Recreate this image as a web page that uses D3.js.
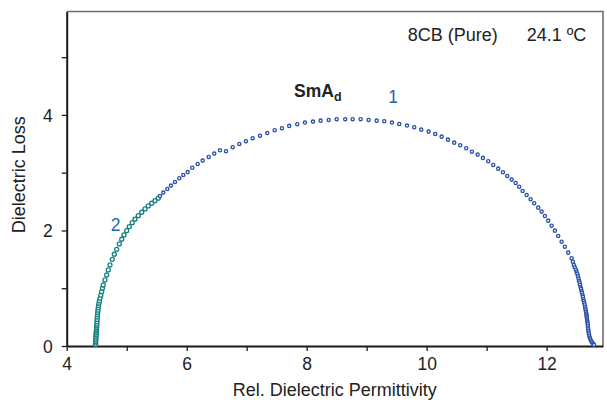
<!DOCTYPE html>
<html>
<head>
<meta charset="utf-8">
<script src="https://cdn.jsdelivr.net/npm/d3@7"></script>
<style>
  html, body { margin: 0; padding: 0; background: #fff; }
  svg { display: block; font-family: "Liberation Sans", Arial, sans-serif; }
</style>
</head>
<body>
<svg id="chart" width="607" height="402"></svg>
<script>
// Cole-Cole plot of 8CB (pure) at 24.1 °C: loss vs. permittivity.
// Series 1 (low-frequency relaxation): real and imaginary parts.
const s1Real = [
  5.555, 5.610, 5.677, 5.738, 5.805, 5.877, 5.943, 6.017, 6.093, 6.183,
  6.267, 6.367, 6.460, 6.555, 6.655, 6.767, 6.877, 6.988, 7.100, 7.222,
  7.343, 7.467, 7.588, 7.710, 7.843, 7.972, 8.105, 8.233, 8.367, 8.500,
  8.643, 8.767, 8.900, 9.033, 9.167, 9.293, 9.422, 9.543, 9.672, 9.793,
  9.910, 10.033, 10.143, 10.250, 10.355, 10.460, 10.560, 10.660, 10.755, 10.850,
  10.938, 11.027, 11.110, 11.193, 11.272, 11.343, 11.417, 11.483, 11.543, 11.600,
  11.667, 11.733, 11.793, 11.860, 11.917, 11.972, 12.027, 12.083, 12.138, 12.193,
  12.250, 12.305, 12.360, 12.417, 12.437, 12.455, 12.470, 12.490, 12.500, 12.512,
  12.522, 12.533, 12.540, 12.550, 12.556, 12.566, 12.574, 12.582, 12.590, 12.600,
  12.606, 12.612, 12.620, 12.626, 12.634, 12.642, 12.646, 12.652, 12.656, 12.662,
  12.666, 12.670, 12.672, 12.678, 12.680, 12.686, 12.688, 12.690, 12.694, 12.697,
  12.702, 12.707, 12.713, 12.722, 12.732, 12.746, 12.760, 12.775, 12.790
];
const s1Imag = [
  2.597, 2.655, 2.719, 2.776, 2.840, 2.904, 2.961, 3.010, 3.085, 3.152,
  3.209, 3.273, 3.330, 3.389, 3.371, 3.441, 3.498, 3.545, 3.597, 3.641,
  3.688, 3.735, 3.770, 3.810, 3.839, 3.867, 3.884, 3.901, 3.913, 3.926,
  3.926, 3.926, 3.926, 3.913, 3.901, 3.891, 3.867, 3.844, 3.815, 3.787,
  3.745, 3.711, 3.671, 3.624, 3.572, 3.520, 3.475, 3.423, 3.364, 3.313,
  3.256, 3.198, 3.134, 3.070, 3.008, 2.944, 2.880, 2.822, 2.758, 2.684,
  2.615, 2.540, 2.471, 2.395, 2.326, 2.251, 2.170, 2.083, 1.997, 1.905,
  1.806, 1.719, 1.616, 1.519, 1.460, 1.403, 1.360, 1.320, 1.280, 1.250,
  1.210, 1.170, 1.130, 1.100, 1.060, 1.020, 0.990, 0.950, 0.920, 0.880,
  0.850, 0.810, 0.780, 0.750, 0.720, 0.680, 0.650, 0.620, 0.590, 0.560,
  0.530, 0.500, 0.470, 0.440, 0.410, 0.380, 0.350, 0.320, 0.290, 0.260,
  0.230, 0.200, 0.170, 0.140, 0.110, 0.080, 0.060, 0.040, 0.020
];

// Series 2 (high-frequency relaxation).
const s2Real = [
  4.481, 4.482, 4.484, 4.485, 4.487, 4.488, 4.490, 4.492, 4.494, 4.497,
  4.499, 4.501, 4.503, 4.505, 4.507, 4.510, 4.513, 4.517, 4.521, 4.525,
  4.531, 4.538, 4.546, 4.555, 4.568, 4.583, 4.596, 4.610, 4.638, 4.667,
  4.693, 4.722, 4.760, 4.793, 4.833, 4.877, 4.917, 4.955, 5.000, 5.043,
  5.093, 5.138, 5.193, 5.250, 5.305, 5.360, 5.417, 5.472, 5.527
];
const s2Imag = [
  0.020, 0.050, 0.080, 0.110, 0.140, 0.170, 0.200, 0.230, 0.260, 0.290,
  0.320, 0.350, 0.380, 0.420, 0.460, 0.500, 0.540, 0.580, 0.620, 0.660,
  0.700, 0.740, 0.780, 0.826, 0.880, 0.940, 1.000, 1.056, 1.143, 1.229,
  1.316, 1.403, 1.501, 1.588, 1.674, 1.766, 1.848, 1.922, 1.997, 2.066,
  2.135, 2.194, 2.256, 2.315, 2.372, 2.424, 2.471, 2.516, 2.558
];

const xTicks = [4, 5, 6, 7, 8, 9, 10, 11, 12];
const yTicks = [0, 1, 2, 3, 4, 5];
const xDomain = [4, 12.94];
const yDomain = [0, 5.79];

const svg = d3.select("#chart");
const plotLeft = 66.7, plotRight = 603, plotTop = 11.5, plotBottom = 346;

const x = d3.scaleLinear().domain(xDomain).range([plotLeft, plotRight]);
const y = d3.scaleLinear().domain(yDomain).range([plotBottom, plotTop]);

// frame: grey top and right edges
svg.append("path")
  .attr("d", `M${plotLeft},${plotTop}H${plotRight}V${plotBottom}`)
  .attr("fill", "none")
  .attr("stroke", "#6e6e6e")
  .attr("stroke-width", 1.6);

const xAxis = d3.axisBottom(x)
  .tickValues(xTicks)
  .tickSize(5)
  .tickSizeOuter(0)
  .tickFormat(d => d % 2 === 0 ? d : "");
const yAxis = d3.axisLeft(y)
  .tickValues(yTicks)
  .tickSize(5)
  .tickSizeOuter(0)
  .tickFormat(d => d % 2 === 0 ? d : "");

const gx = svg.append("g").attr("transform", `translate(0,${plotBottom})`).call(xAxis);
const gy = svg.append("g").attr("transform", `translate(${plotLeft},0)`).call(yAxis);

[gx, gy].forEach(g => {
  g.select(".domain").attr("stroke", "#1a1a1a").attr("stroke-width", 2);
  g.selectAll(".tick line").attr("stroke", "#1a1a1a").attr("stroke-width", 1.3);
  g.selectAll(".tick text")
    .attr("fill", "#222")
    .style("font-size", "17.5px")
    .style("font-family", "'Liberation Sans', Arial, sans-serif");
});
gx.selectAll(".tick text").attr("dy", "1.05em").attr("y", 6);
gy.selectAll(".tick text").attr("x", -14).attr("dy", "0.36em");

// axis titles
svg.append("text")
  .attr("x", (plotLeft + plotRight) / 2)
  .attr("y", 396)
  .attr("text-anchor", "middle")
  .attr("fill", "#222")
  .style("font-size", "18px")
  .text("Rel. Dielectric Permittivity");

svg.append("text")
  .attr("transform", `translate(25,${(plotTop + plotBottom) / 2 - 4}) rotate(-90)`)
  .attr("text-anchor", "middle")
  .attr("fill", "#222")
  .style("font-size", "18px")
  .text("Dielectric Loss");

// data markers
const s1 = s1Real.map((v, i) => ({ re: v, im: s1Imag[i] }));
const s2 = s2Real.map((v, i) => ({ re: v, im: s2Imag[i] }));

svg.append("g").selectAll("circle").data(s2).join("circle")
  .attr("cx", d => x(d.re))
  .attr("cy", d => y(d.im))
  .attr("r", 2)
  .attr("fill", "#fff")
  .attr("stroke", "#13807f")
  .attr("stroke-width", 1.3);

svg.append("g").selectAll("circle").data(s1).join("circle")
  .attr("cx", d => x(d.re))
  .attr("cy", d => y(d.im))
  .attr("r", 1.6)
  .attr("fill", "#fff")
  .attr("stroke", "#2a52a6")
  .attr("stroke-width", 1.35);

// annotations
svg.append("text")
  .attr("x", 407.7).attr("y", 41)
  .attr("fill", "#222").style("font-size", "18px")
  .text("8CB (Pure)");
svg.append("text")
  .attr("x", 526.7).attr("y", 41)
  .attr("fill", "#222").style("font-size", "18px")
  .text("24.1 ºC");

const sm = svg.append("text")
  .attr("x", 294).attr("y", 97)
  .attr("fill", "#222").style("font-size", "17.5px").style("font-weight", "bold");
sm.append("tspan").text("SmA");
sm.append("tspan").attr("dy", 4).style("font-size", "12.5px").text("d");

svg.append("text")
  .attr("x", 393).attr("y", 103)
  .attr("text-anchor", "middle")
  .attr("fill", "#2a5fb2").style("font-size", "17.5px")
  .text("1");
svg.append("text")
  .attr("x", 115.7).attr("y", 231)
  .attr("text-anchor", "middle")
  .attr("fill", "#2068c0").style("font-size", "17.5px")
  .text("2");
</script>
</body>
</html>
